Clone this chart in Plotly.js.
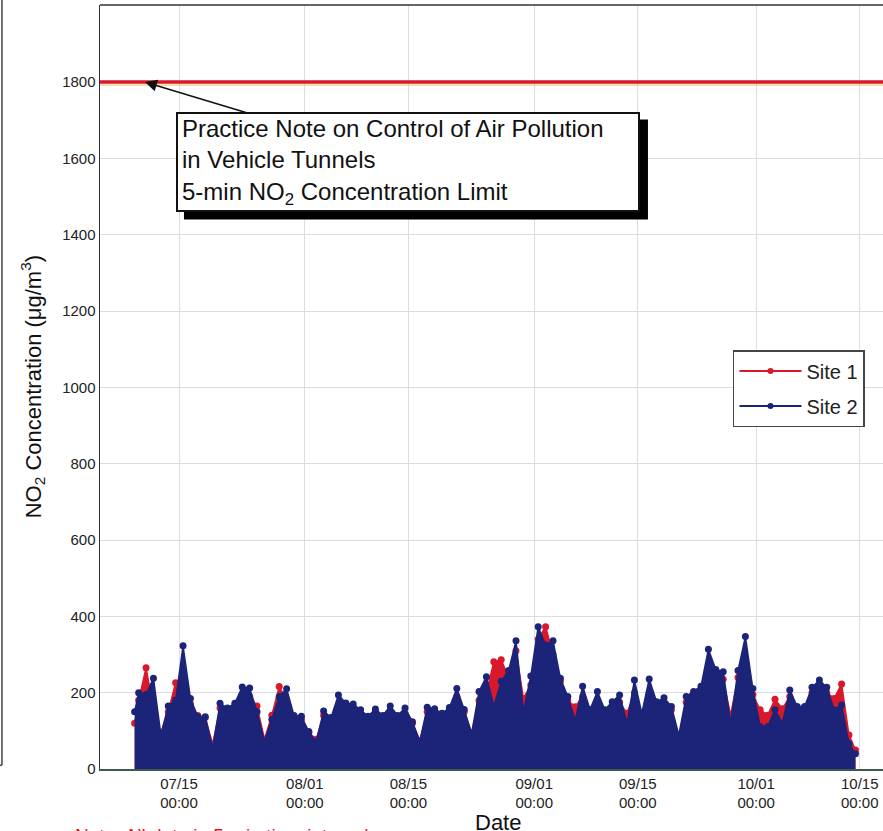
<!DOCTYPE html>
<html>
<head>
<meta charset="utf-8">
<script src="https://cdn.plot.ly/plotly-3.0.1.min.js"></script>
<style>html,body{margin:0;padding:0;background:#fff;}#chart{width:883px;height:831px;}</style>
</head>
<body>
<div id="chart"></div>
<script>
// Timestamps of daily peak readings (5-min data, envelope)
const times = [
 '2014-07-09 00:05',
 '2014-07-09 13:00','2014-07-10 13:00','2014-07-11 13:00','2014-07-12 13:00','2014-07-13 13:00','2014-07-14 13:00','2014-07-15 13:00','2014-07-16 13:00','2014-07-17 13:00','2014-07-18 13:00','2014-07-19 13:00','2014-07-20 13:00','2014-07-21 13:00','2014-07-22 13:00','2014-07-23 13:00','2014-07-24 13:00','2014-07-25 13:00','2014-07-26 13:00','2014-07-27 13:00','2014-07-28 13:00','2014-07-29 13:00','2014-07-30 13:00','2014-07-31 13:00',
 '2014-08-01 13:00','2014-08-02 13:00','2014-08-03 13:00','2014-08-04 13:00','2014-08-05 13:00','2014-08-06 13:00','2014-08-07 13:00','2014-08-08 13:00','2014-08-09 13:00','2014-08-10 13:00','2014-08-11 13:00','2014-08-12 13:00','2014-08-13 13:00','2014-08-14 13:00','2014-08-15 13:00','2014-08-16 13:00','2014-08-17 13:00','2014-08-18 13:00','2014-08-19 13:00','2014-08-20 13:00','2014-08-21 13:00','2014-08-22 13:00','2014-08-23 13:00','2014-08-24 13:00','2014-08-25 13:00','2014-08-26 13:00','2014-08-27 13:00','2014-08-28 13:00','2014-08-29 13:00','2014-08-30 13:00','2014-08-31 13:00',
 '2014-09-01 13:00','2014-09-02 13:00','2014-09-03 13:00','2014-09-04 13:00','2014-09-05 13:00','2014-09-06 13:00','2014-09-07 13:00','2014-09-08 13:00','2014-09-09 13:00','2014-09-10 13:00','2014-09-11 13:00','2014-09-12 13:00','2014-09-13 13:00','2014-09-14 13:00','2014-09-15 13:00','2014-09-16 13:00','2014-09-17 13:00','2014-09-18 13:00','2014-09-19 13:00','2014-09-20 13:00','2014-09-21 13:00','2014-09-22 13:00','2014-09-23 13:00','2014-09-24 13:00','2014-09-25 13:00','2014-09-26 13:00','2014-09-27 13:00','2014-09-28 13:00','2014-09-29 13:00','2014-09-30 13:00',
 '2014-10-01 13:00','2014-10-02 13:00','2014-10-03 13:00','2014-10-04 13:00','2014-10-05 13:00','2014-10-06 13:00','2014-10-07 13:00','2014-10-08 13:00','2014-10-09 13:00','2014-10-10 13:00','2014-10-11 13:00','2014-10-12 13:00','2014-10-13 13:00',
 '2014-10-14 10:00'
];
const site1 = [
 120,
 180,265,160,95,150,226,190,170,140,135,65,160,150,165,180,190,165,78,141,216,180,135,130,
 95,78,140,130,160,160,155,145,130,150,135,150,135,145,120,75,150,150,140,150,190,150,95,180,200,281,286,240,310,185,220,
 340,373,300,230,180,163,190,145,180,145,160,175,146,200,140,200,165,170,155,85,175,190,200,240,240,235,141,240,250,195,
 155,141,183,158,190,155,155,200,215,200,185,223,89,
 50
];
const site2 = [
 150,
 200,195,238,90,165,180,323,185,137,137,55,172,160,172,215,212,150,72,130,190,210,140,138,
 98,72,152,135,194,173,170,155,138,157,140,165,140,160,124,72,162,158,146,161,211,156,93,203,242,165,230,258,336,150,244,
 373,325,336,238,190,128,217,156,203,155,176,194,120,233,146,236,176,187,164,89,190,203,217,314,261,255,120,258,347,211,
 111,111,155,120,207,164,164,214,233,214,155,168,67,
 40
];
const seriesNames = ['Site 1','Site 2'];
const limitValue = 1800;
const limitDate = '2014-07-10 09:30';
const xTickVals = ['2014-07-15','2014-08-01','2014-08-15','2014-09-01','2014-09-15','2014-10-01','2014-10-15'];
const xTickText = ['07/15<br>00:00','08/01<br>00:00','08/15<br>00:00','09/01<br>00:00','09/15<br>00:00','10/01<br>00:00','10/15<br>00:00'];
const noteText = 'Practice Note on Control of Air Pollution<br>in Vehicle Tunnels<br>5-min NO<sub>2</sub> Concentration Limit';

const RED = '#d9182b', NAVY = '#1b2478';
const FONT = 'Liberation Sans, Arial, sans-serif';

const traces = [
  {x: times, y: site1, name: seriesNames[0], type: 'scatter', mode: 'lines+markers',
   line: {color: RED, width: 1.5}, marker: {color: RED, size: 7},
   fill: 'tozeroy', fillcolor: RED, showlegend: false},
  {x: times, y: site2, name: seriesNames[1], type: 'scatter', mode: 'lines+markers',
   line: {color: NAVY, width: 1.5}, marker: {color: NAVY, size: 7},
   fill: 'tozeroy', fillcolor: NAVY, showlegend: false},
  // legend entries (line + dot, as in the reference legend)
  {x: [null], y: [null], name: seriesNames[0], type: 'scatter', mode: 'lines+markers',
   line: {color: RED, width: 2}, marker: {color: RED, size: 6}, legendgroup: 'a'},
  {x: [null], y: [null], name: seriesNames[1], type: 'scatter', mode: 'lines+markers',
   line: {color: NAVY, width: 2}, marker: {color: NAVY, size: 6}, legendgroup: 'b'}
];

const layout = {
  width: 883, height: 831,
  margin: {l: 100, r: 0, t: 5, b: 62},
  paper_bgcolor: '#fff', plot_bgcolor: '#fff',
  font: {family: FONT, color: '#222'},
  showlegend: true,
  legend: {x: 0.8084, y: 0.5484, xanchor: 'left', yanchor: 'top',
    bgcolor: '#fff', bordercolor: '#444', borderwidth: 1.5,
    font: {family: FONT, size: 20, color: '#222'}, tracegroupgap: 6,
    itemwidth: 62},
  xaxis: {type: 'date', range: ['2014-07-04 07:40', '2014-10-18 03:20'],
    tickvals: xTickVals, ticktext: xTickText, ticks: '',
    tickfont: {family: FONT, size: 15, color: '#222'},
    showgrid: true, gridcolor: '#dcdce6', gridwidth: 1,
    showline: true, linecolor: '#3d5a50', linewidth: 1.5, mirror: false, zeroline: false},
  yaxis: {range: [0, 2002], dtick: 200, tick0: 0, ticks: '',
    tickfont: {family: FONT, size: 15, color: '#222'},
    showgrid: true, gridcolor: '#dcdce6', gridwidth: 1,
    showline: true, linecolor: '#333', linewidth: 1.5, mirror: false, zeroline: false},
  shapes: [
    {type: 'line', xref: 'paper', x0: 0, x1: 1, yref: 'y', y0: limitValue, y1: limitValue,
     line: {color: RED, width: 3.5}},
    {type: 'line', xref: 'paper', x0: 0, x1: 1, yref: 'y', ysizemode: 'pixel', yanchor: limitValue,
     y0: -3, y1: -3, line: {color: '#f2c25a', width: 1}},
    {type: 'line', xref: 'paper', yref: 'paper', x0: 0, x1: 1, y0: 1, y1: 1,
     line: {color: '#333', width: 1.5}},
    {type: 'line', xref: 'paper', yref: 'paper', x0: -0.1252, x1: -0.1252, y0: 0.005, y1: 1.01,
     line: {color: '#444', width: 1.5}},
    {type: 'line', xref: 'paper', yref: 'paper', x0: -0.13, x1: -0.1252, y0: 0.005, y1: 0.005,
     line: {color: '#444', width: 1.5}},
    // drop shadow of the callout box
    {type: 'rect', xref: 'x', yref: 'y', xsizemode: 'pixel', ysizemode: 'pixel',
     xanchor: limitDate, yanchor: limitValue, x0: 39, x1: 503, y0: -137.5, y1: -37.5,
     fillcolor: '#000', line: {width: 0}}
  ],
  annotations: [
    {x: limitDate, y: limitValue, xref: 'x', yref: 'y',
     text: noteText, align: 'left', width: 452, height: 88,
     borderpad: 4, borderwidth: 2, showarrow: true,
     ax: 263, ay: 79.5, bgcolor: '#fff', bordercolor: '#111',
     arrowcolor: '#111', arrowhead: 2, arrowsize: 1.6, arrowwidth: 1.5,
     font: {family: FONT, size: 24, color: '#111'}},
    {xref: 'paper', yref: 'paper', x: -0.0865, y: 0.5, xanchor: 'center', yanchor: 'middle',
     textangle: -90, showarrow: false,
     text: 'NO<sub>2</sub> Concentration (μg/m<sup>3</sup>)',
     font: {family: FONT, size: 22, color: '#111'}},
    {xref: 'paper', yref: 'paper', x: 0.5083, y: -0.0695, xanchor: 'center', yanchor: 'middle',
     showarrow: false, text: 'Date', font: {family: FONT, size: 22, color: '#111'}},
    {xref: 'paper', yref: 'paper', x: -0.034, y: -0.0705, xanchor: 'left', yanchor: 'top',
     showarrow: false, text: 'Note: All data in 5-min time interval',
     font: {family: FONT, size: 19, color: '#d9182b'}}
  ]
};

Plotly.newPlot('chart', traces, layout, {displayModeBar: false, staticPlot: true});
</script>
</body>
</html>
